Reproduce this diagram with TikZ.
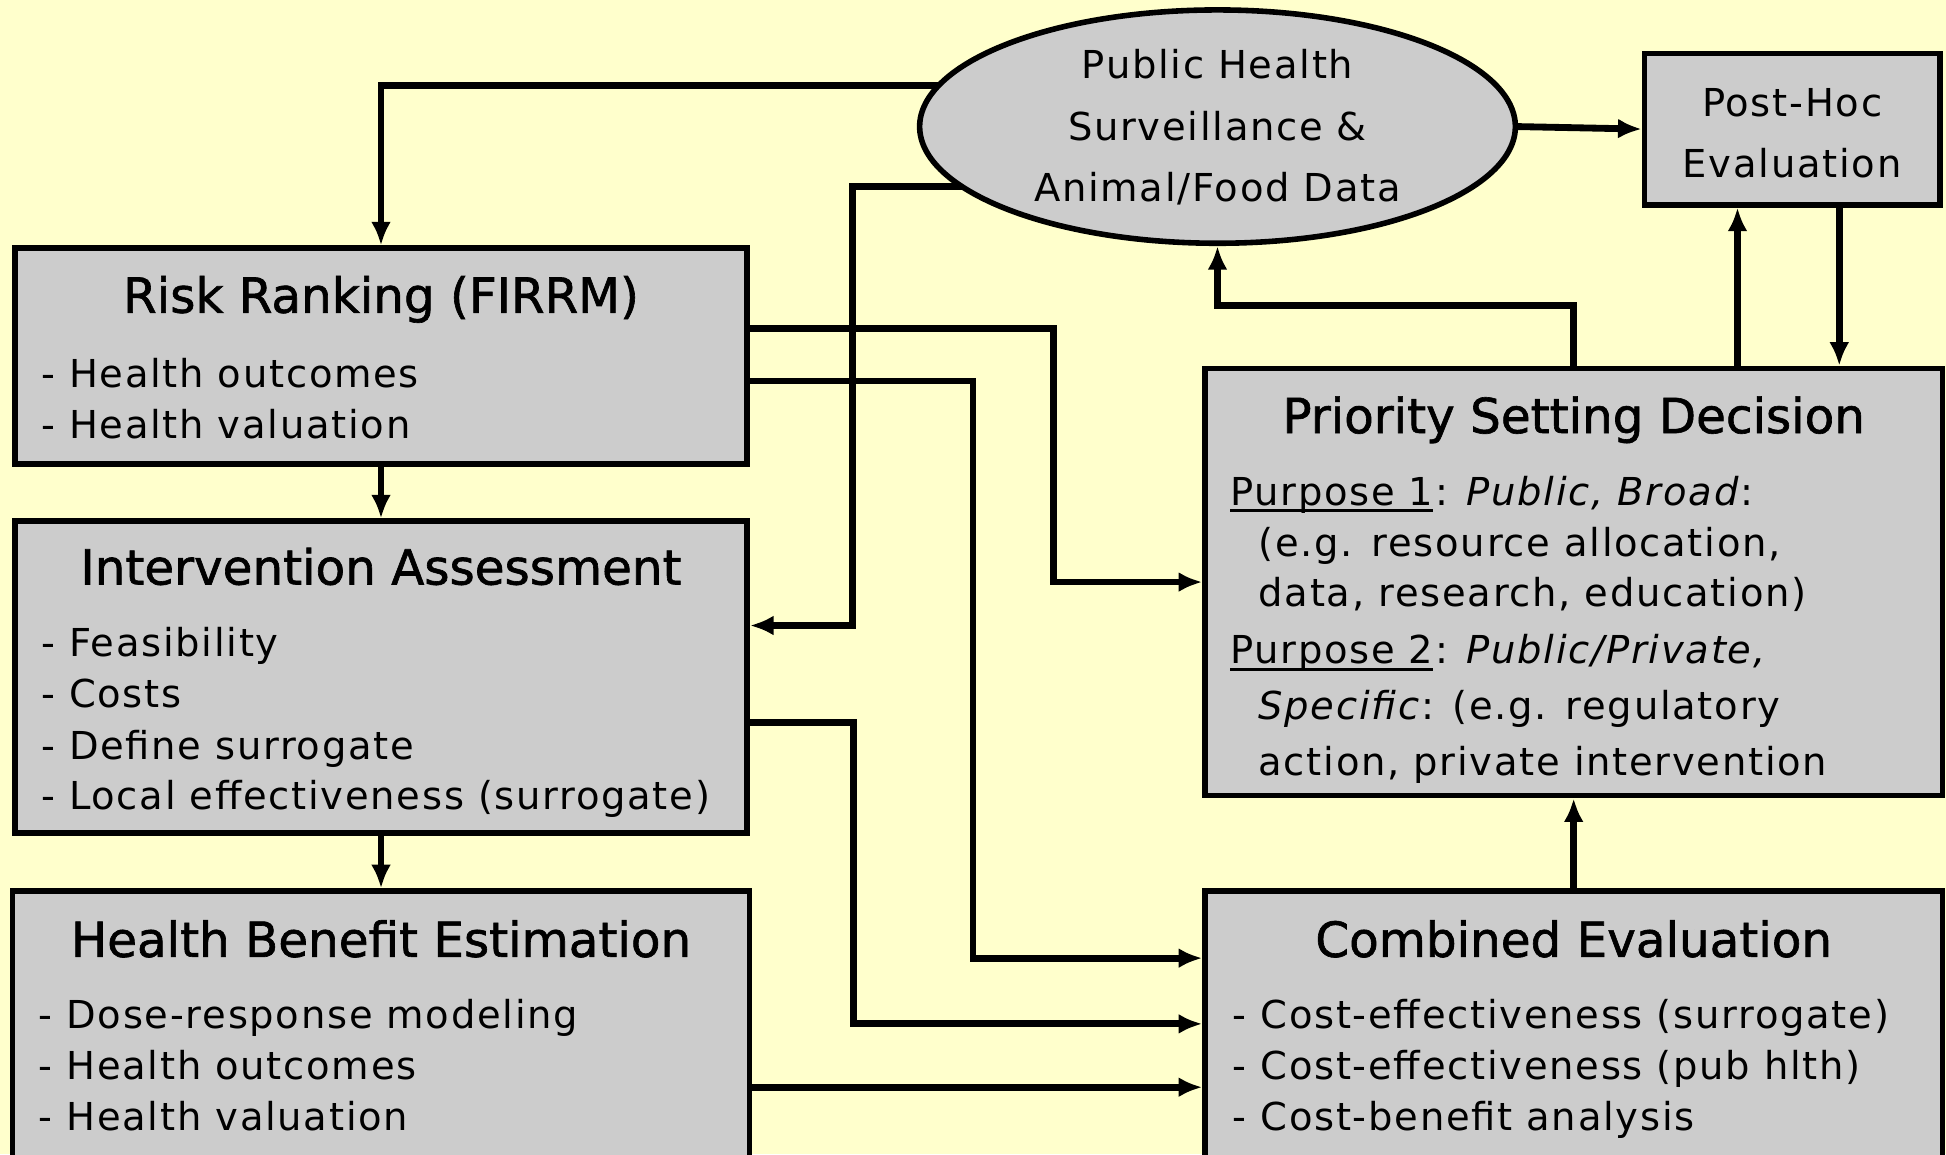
\documentclass[tikz,border=0pt]{standalone}
\usepackage{fontspec}
\setmainfont{DejaVu Sans}
\newfontfamily\itemfont[LetterSpace=4.5]{DejaVu Sans}
\newfontfamily\titlefont[FakeBold=1.3]{DejaVu Sans}
\usetikzlibrary{arrows.meta,shapes.geometric,backgrounds}
\tikzset{
  box/.style={draw=black,line width=4.5pt,fill=boxgray,inner sep=0pt},
  conn/.style={line width=5.5pt,-{Latex[length=19pt,width=16pt]}},
  ttl/.style={font=\titlefont\fontsize{39}{44}\selectfont,inner sep=0pt,anchor=base},
  itm/.style={font=\itemfont\fontsize{31}{34}\selectfont,inner sep=0pt,anchor=base west},
  ctr/.style={font=\itemfont\fontsize{31}{34}\selectfont,inner sep=0pt,anchor=base},
}
\newlength\myulw
\newcommand{\myul}[1]{\settowidth\myulw{#1}\rlap{\rule[-5.5pt]{\myulw}{2.5pt}}#1}
\definecolor{bgyellow}{HTML}{FFFFCC}
\definecolor{boxgray}{HTML}{CCCCCC}
\begin{document}
\begin{tikzpicture}[x=1pt,y=-1pt]
\useasboundingbox (0,0) rectangle (1568,930);
% nodes
\node[box,ellipse,minimum width=480,minimum height=188] (ph) at (981,102) {};
\node[box,minimum width=238,minimum height=122] (ph2) at (1444,104) {};
\node[box,minimum width=590,minimum height=174] (rr) at (307,287) {};
\node[box,minimum width=590,minimum height=251] (ia) at (307,545.5) {};
\node[box,minimum width=594,minimum height=230] (hb) at (307,833) {};
\node[box,minimum width=594,minimum height=344] (ps) at (1268,469) {};
\node[box,minimum width=594,minimum height=230] (ce) at (1268,833) {};
% texts
\node[ctr] (t1) at (981,63) {Public Health};
\node[ctr] (t2) at (981,113) {Surveillance \&};
\node[ctr] (t3) at (981,162) {Animal/Food Data};
\node[ctr] (t4) at (1444,94) {Post-Hoc};
\node[ctr] (t5) at (1444,143) {Evaluation};
\node[ttl] (rrt) at (307,252) {Risk Ranking (FIRRM)};
\node[itm] (rr1) at (33,312) {- Health outcomes};
\node[itm] (rr2) at (33,353) {- Health valuation};
\node[ttl] (iat) at (307,471) {Intervention Assessment};
\node[itm] (ia1) at (33,529) {- Feasibility};
\node[itm] (ia2) at (33,570) {- Costs};
\node[itm] (ia3) at (33,612) {- Define surrogate};
\node[itm] (ia4) at (33,652) {- Local effectiveness (surrogate)};
\node[ttl] (hbt) at (307,771) {Health Benefit Estimation};
\node[itm] (hb1) at (31,829) {- Dose-response modeling};
\node[itm] (hb2) at (31,870) {- Health outcomes};
\node[itm] (hb3) at (31,911) {- Health valuation};
\node[ttl] (pst) at (1268,349) {Priority Setting Decision};
\node[itm] (ps1) at (991,407) {\myul{Purpose 1}: \textit{Public, Broad}:};
\node[itm] (ps2) at (1014,448) {(e.g. resource allocation,};
\node[itm] (ps3) at (1014,489) {data, research, education)};
\node[itm] (ps4) at (991,535) {\myul{Purpose 2}: \textit{Public/Private,}};
\node[itm] (ps5) at (1014,580) {\textit{Specific}: (e.g. regulatory};
\node[itm] (ps6) at (1014,625) {action, private intervention};
\node[ttl] (cet) at (1268,771) {Combined Evaluation};
\node[itm] (ce1) at (993,829) {- Cost-effectiveness (surrogate)};
\node[itm] (ce2) at (993,870) {- Cost-effectiveness (pub hlth)};
\node[itm] (ce3) at (993,911) {- Cost-benefit analysis};
% background and connectors
\begin{pgfonlayer}{background}
\fill[bgyellow] (0,0) rectangle (1568,930);
\draw[conn] (ph.center |- 0,69) -| (rr.north);
\draw[conn] (ph.center |- 0,150) -- (687,150) |- (ia.east |- 0,504);
\end{pgfonlayer}
\draw[conn] (rr.east |- 0,265) -- (849,265) |- (ps.west |- 0,469);
\draw[conn] (rr.east |- 0,307) -- (784,307) |- (ce.west |- 0,772);
\draw[conn] (ia.east |- 0,582) -- (688,582) |- (ce.west |- 0,825);
\draw[conn] (hb.east |- 0,876) -- (ce.west |- 0,876);
\draw[conn] (rr.south) -- (ia.north);
\draw[conn] (ia.south) -- (hb.north);
\draw[conn] (ce.north) -- (ps.south);
\draw[conn] (ps.north) -- (1268,246) -| (ph.south);
\draw[conn] (ps.north -| 1400,0) -- (ph2.south -| 1400,0);
\draw[conn] (ph2.south -| 1482,0) -- (ps.north -| 1482,0);
\draw[conn] (ph.east) -- (ph2.west);
\end{tikzpicture}
\end{document}
